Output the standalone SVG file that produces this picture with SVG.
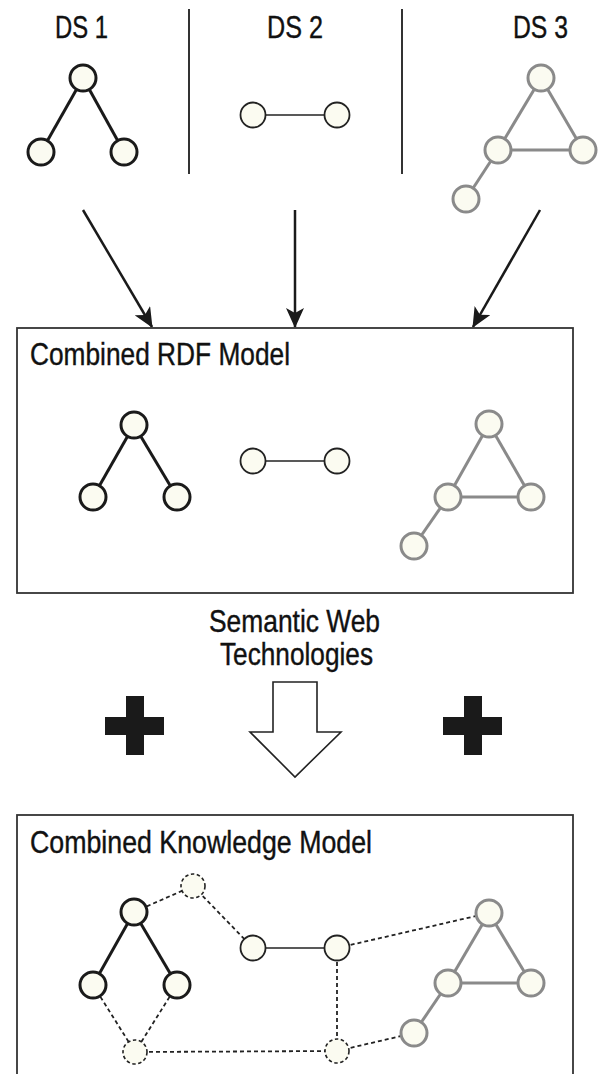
<svg xmlns="http://www.w3.org/2000/svg" width="599" height="1074" viewBox="0 0 599 1074">
<style>
text{font-family:"Liberation Sans",Arial,sans-serif;font-size:32px;fill:#111;stroke:#111;stroke-width:0.4}
.n{fill:#fbfbf1}
.blk line{stroke:#1a1a1a;stroke-width:3}
.blk circle{stroke:#1a1a1a;stroke-width:3}
.thin line{stroke:#222;stroke-width:1.6}
.thin circle{stroke:#222;stroke-width:1.8}
.gry line{stroke:#8a8a8a;stroke-width:3}
.gry circle{stroke:#8a8a8a;stroke-width:3}
.box{fill:none;stroke:#333;stroke-width:1.8}
.div{stroke:#333;stroke-width:2}
.dash{stroke:#222;stroke-width:1.8;stroke-dasharray:4 3;fill:none}
.dn{fill:#fbfbf1;stroke:#222;stroke-width:1.6;stroke-dasharray:3.5 2.5}
.arr{stroke:#1a1a1a;stroke-width:2.5;fill:none;marker-end:url(#ah)}
</style>
<defs>
<marker id="ah" markerUnits="userSpaceOnUse" markerWidth="20" markerHeight="18" viewBox="0 0 20 18" refX="19" refY="9" orient="auto">
<path d="M0,0 L20,9 L0,18 L5,9 z" fill="#1a1a1a"/>
</marker>
</defs>
<rect width="599" height="1074" fill="#fff"/>

<g id="dividers">
<line class="div" x1="189" y1="9" x2="189" y2="174"/>
<line class="div" x1="402" y1="9" x2="402" y2="174"/>
</g>

<g id="ds1">
<text x="55" y="38" textLength="53" lengthAdjust="spacingAndGlyphs">DS 1</text>
<g class="blk">
<line x1="83" y1="78" x2="41" y2="152"/><line x1="83" y1="78" x2="124" y2="152"/>
<circle class="n" cx="83" cy="78" r="13"/><circle class="n" cx="41" cy="152" r="13"/><circle class="n" cx="124" cy="152" r="13"/>
</g>
</g>

<g id="ds2">
<text x="267" y="38" textLength="56" lengthAdjust="spacingAndGlyphs">DS 2</text>
<g class="thin">
<line x1="253" y1="115" x2="337" y2="115"/>
<circle class="n" cx="253" cy="115" r="12.5"/><circle class="n" cx="337" cy="115" r="12.5"/>
</g>
</g>

<g id="ds3">
<text x="513" y="38" textLength="55" lengthAdjust="spacingAndGlyphs">DS 3</text>
<g class="gry">
<line x1="541" y1="78" x2="498" y2="150"/><line x1="541" y1="78" x2="583" y2="150"/><line x1="498" y1="150" x2="583" y2="150"/><line x1="498" y1="150" x2="466" y2="199"/>
<circle class="n" cx="541" cy="78" r="13"/><circle class="n" cx="498" cy="150" r="13"/><circle class="n" cx="583" cy="150" r="13"/><circle class="n" cx="466" cy="199" r="13"/>
</g>
</g>

<g id="connectors">
<line class="arr" x1="83" y1="210" x2="152" y2="327"/>
<line class="arr" x1="295" y1="210" x2="295" y2="327"/>
<line class="arr" x1="540" y1="210" x2="473" y2="327"/>
<path id="block-arrow" d="M273,682 L317,682 L317,732 L341,732 L295,777 L250,732 L273,732 Z" fill="#fff" stroke="#222" stroke-width="1.6"/>
</g>

<g id="rdf-model">
<rect class="box" x="17" y="328" width="556" height="265"/>
<text x="30" y="365" textLength="260" lengthAdjust="spacingAndGlyphs">Combined RDF Model</text>
<g class="blk">
<line x1="134" y1="425" x2="93" y2="497"/><line x1="134" y1="425" x2="177" y2="497"/>
<circle class="n" cx="134" cy="425" r="13"/><circle class="n" cx="93" cy="497" r="13"/><circle class="n" cx="177" cy="497" r="13"/>
</g>
<g class="thin">
<line x1="253" y1="461" x2="337" y2="461"/>
<circle class="n" cx="253" cy="461" r="12.5"/><circle class="n" cx="337" cy="461" r="12.5"/>
</g>
<g class="gry">
<line x1="489" y1="424" x2="448" y2="497"/><line x1="489" y1="424" x2="531" y2="497"/><line x1="448" y1="497" x2="531" y2="497"/><line x1="448" y1="497" x2="414" y2="546"/>
<circle class="n" cx="489" cy="424" r="13"/><circle class="n" cx="448" cy="497" r="13"/><circle class="n" cx="531" cy="497" r="13"/><circle class="n" cx="414" cy="546" r="13"/>
</g>
</g>

<g id="semantic-web">
<text x="209" y="632" textLength="171" lengthAdjust="spacingAndGlyphs">Semantic Web</text>
<text x="220" y="665" textLength="153" lengthAdjust="spacingAndGlyphs">Technologies</text>
</g>

<g id="plus-left" fill="#1a1a1a">
<rect x="126" y="696" width="18" height="59"/>
<rect x="105" y="717" width="59" height="18"/>
</g>
<g id="plus-right" fill="#1a1a1a">
<rect x="464" y="696" width="18" height="59"/>
<rect x="443" y="717" width="59" height="18"/>
</g>

<g id="knowledge-model">
<rect class="box" x="17" y="815" width="556" height="270"/>
<text x="30" y="853" textLength="342" lengthAdjust="spacingAndGlyphs">Combined Knowledge Model</text>
<g id="links">
<line class="dash" x1="134" y1="912" x2="193" y2="886"/>
<line class="dash" x1="193" y1="886" x2="253" y2="948"/>
<line class="dash" x1="93" y1="985" x2="135" y2="1052"/>
<line class="dash" x1="177" y1="985" x2="135" y2="1052"/>
<line class="dash" x1="135" y1="1052" x2="337" y2="1051"/>
<line class="dash" x1="337" y1="948" x2="337" y2="1051"/>
<line class="dash" x1="337" y1="1051" x2="414" y2="1033"/>
<line class="dash" x1="337" y1="948" x2="489" y2="913"/>
</g>
<circle class="dn" cx="193" cy="886" r="12"/>
<circle class="dn" cx="135" cy="1052" r="12"/>
<circle class="dn" cx="337" cy="1051" r="12"/>
<g class="blk">
<line x1="134" y1="912" x2="93" y2="985"/><line x1="134" y1="912" x2="177" y2="985"/>
<circle class="n" cx="134" cy="912" r="13"/><circle class="n" cx="93" cy="985" r="13"/><circle class="n" cx="177" cy="985" r="13"/>
</g>
<g class="thin">
<line x1="253" y1="948" x2="337" y2="948"/>
<circle class="n" cx="253" cy="948" r="12.5"/><circle class="n" cx="337" cy="948" r="12.5"/>
</g>
<g class="gry">
<line x1="489" y1="913" x2="448" y2="983"/><line x1="489" y1="913" x2="531" y2="983"/><line x1="448" y1="983" x2="531" y2="983"/><line x1="448" y1="983" x2="414" y2="1033"/>
<circle class="n" cx="489" cy="913" r="13"/><circle class="n" cx="448" cy="983" r="13"/><circle class="n" cx="531" cy="983" r="13"/><circle class="n" cx="414" cy="1033" r="13"/>
</g>
</g>
</svg>
